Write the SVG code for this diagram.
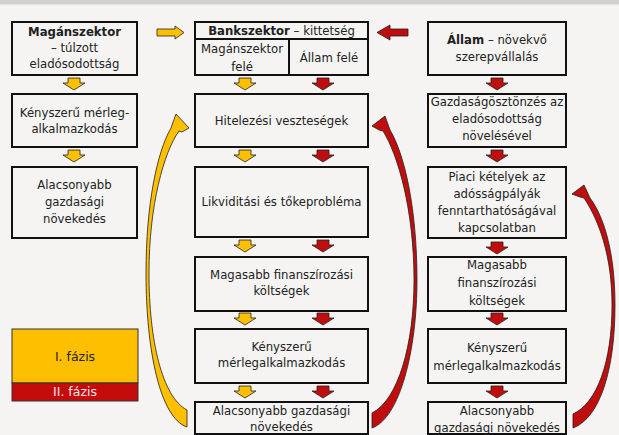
<svg xmlns="http://www.w3.org/2000/svg" xmlns:xlink="http://www.w3.org/1999/xlink" width="619" height="435" viewBox="0 0 619 435">
<style>
.bx{fill:#f5f4f2;stroke:#111;stroke-width:2}
.t{font-family:"DejaVu Sans",sans-serif;font-size:11.7px;fill:#222;text-anchor:middle}
.b{font-weight:bold}
.y{fill:#fdbf00;stroke:#222;stroke-width:0.8}
.r{fill:#c00d0d;stroke:#222;stroke-width:0.8}
</style>
<defs>
<path id="da" d="M-6,0 H6 V5 H11 L0,12 L-11,5 H-6 Z"/>
</defs>
<rect x="0" y="0" width="619" height="435" fill="#f5f4f2"/>
<rect x="0" y="0" width="619" height="4.5" fill="#d5cfcb"/>

<g id="n-magan">
<rect class="bx" x="12" y="22" width="125" height="53"/>
<text class="t" x="74.5" y="36"><tspan class="b">Magánszektor</tspan></text>
<text class="t" x="74.5" y="52">– túlzott</text>
<text class="t" x="74.5" y="68">eladósodottság</text>
</g>
<g id="n-kenysz1">
<rect class="bx" x="12" y="94" width="125" height="53"/>
<text class="t" x="74.5" y="117">Kényszerű mérleg-</text>
<text class="t" x="74.5" y="133">alkalmazkodás</text>
</g>
<g id="n-alacs1">
<rect class="bx" x="12" y="167" width="125" height="71"/>
<text class="t" x="74.5" y="189">Alacsonyabb</text>
<text class="t" x="74.5" y="206">gazdasági</text>
<text class="t" x="74.5" y="223">növekedés</text>
</g>

<g id="n-bank">
<rect class="bx" x="195" y="22" width="173" height="53"/>
<line x1="195" y1="39" x2="368" y2="39" stroke="#111" stroke-width="2"/>
<line x1="289" y1="39" x2="289" y2="75" stroke="#111" stroke-width="2"/>
<text class="t" x="281.5" y="35"><tspan class="b">Bankszektor</tspan> – kittetség</text>
<text class="t" x="242" y="53">Magánszektor</text>
<text class="t" x="242" y="71">felé</text>
<text class="t" x="329" y="62">Állam felé</text>
</g>
<g id="n-hitel">
<rect class="bx" x="195" y="94" width="173" height="53"/>
<text class="t" x="281.5" y="125">Hitelezési veszteségek</text>
</g>
<g id="n-likv">
<rect class="bx" x="195" y="167" width="173" height="70"/>
<text class="t" x="281.5" y="206">Likviditási és tőkeprobléma</text>
</g>
<g id="n-mag2">
<rect class="bx" x="195" y="257" width="173" height="54"/>
<text class="t" x="281.5" y="279">Magasabb finanszírozási</text>
<text class="t" x="281.5" y="295">költségek</text>
</g>
<g id="n-keny2">
<rect class="bx" x="195" y="329" width="173" height="54"/>
<text class="t" x="281.5" y="351">Kényszerű</text>
<text class="t" x="281.5" y="367">mérlegalkalmazkodás</text>
</g>
<g id="n-alacs2">
<rect class="bx" x="195" y="402" width="173" height="32"/>
<text class="t" x="281.5" y="415">Alacsonyabb gazdasági</text>
<text class="t" x="281.5" y="431">növekedés</text>
</g>

<g id="n-allam">
<rect class="bx" x="428" y="22" width="138" height="53"/>
<text class="t" x="497" y="44"><tspan class="b">Állam</tspan> – növekvő</text>
<text class="t" x="497" y="61">szerepvállalás</text>
</g>
<g id="n-gazd">
<rect class="bx" x="428" y="94" width="138" height="53"/>
<text class="t" x="497" y="106">Gazdaságösztönzés az</text>
<text class="t" x="497" y="123">eladósodottság</text>
<text class="t" x="497" y="140">növelésével</text>
</g>
<g id="n-piaci">
<rect class="bx" x="428" y="167" width="138" height="71"/>
<text class="t" x="497" y="181">Piaci kételyek az</text>
<text class="t" x="497" y="198">adósságpályák</text>
<text class="t" x="497" y="215">fenntarthatóságával</text>
<text class="t" x="497" y="232">kapcsolatban</text>
</g>
<g id="n-mag3">
<rect class="bx" x="428" y="257" width="138" height="54"/>
<text class="t" x="497" y="269">Magasabb</text>
<text class="t" x="497" y="287">finanszírozási</text>
<text class="t" x="497" y="305">költségek</text>
</g>
<g id="n-keny3">
<rect class="bx" x="428" y="329" width="138" height="54"/>
<text class="t" x="497" y="352">Kényszerű</text>
<text class="t" x="497" y="370">mérlegalkalmazkodás</text>
</g>
<g id="n-alacs3">
<rect class="bx" x="428" y="402" width="138" height="32"/>
<text class="t" x="497" y="415">Alacsonyabb</text>
<text class="t" x="497" y="432">gazdasági növekedés</text>
</g>

<g id="legend">
<rect x="12" y="329" width="126" height="54" fill="#fdbf00" stroke="#333" stroke-width="1"/>
<rect x="12" y="383" width="126" height="18" fill="#c40c0c" stroke="#333" stroke-width="1"/>
<text class="t" x="75" y="361" style="font-size:12.5px">I. fázis</text>
<text class="t" x="75" y="396" style="font-size:12.5px;fill:#f6e8e8">II. fázis</text>
</g>

<g id="connectors">
<use xlink:href="#da" class="y" x="74" y="78"/>
<use xlink:href="#da" class="y" x="74" y="150"/>

<use xlink:href="#da" class="y" x="245" y="78"/>
<use xlink:href="#da" class="r" x="323" y="78"/>
<use xlink:href="#da" class="y" x="245" y="150"/>
<use xlink:href="#da" class="r" x="323" y="150"/>
<use xlink:href="#da" class="y" x="245" y="240"/>
<use xlink:href="#da" class="r" x="323" y="240"/>
<use xlink:href="#da" class="y" x="245" y="313"/>
<use xlink:href="#da" class="r" x="323" y="313"/>
<use xlink:href="#da" class="y" x="245" y="386"/>
<use xlink:href="#da" class="r" x="323" y="386"/>

<use xlink:href="#da" class="r" x="497" y="78"/>
<use xlink:href="#da" class="r" x="497" y="150"/>
<use xlink:href="#da" class="r" x="497" y="242"/>
<use xlink:href="#da" class="r" x="497" y="313"/>
<use xlink:href="#da" class="r" x="497" y="386"/>

<path class="y" d="M157,29 H175 V26 L184,32.5 L175,39 V36 H157 Z"/>
<path class="r" d="M408,29 H390 V25 L377,32.5 L390,40 V36 H408 Z"/>

<path class="y" d="M187,427 C160,418 146,350 146,273 C146,205 157,152 171,128 L176,114 L189,128 L182,132 L179,131 C164,152 149,205 149,273 C149,340 162,397 187,410 Z"/>
<path class="r" d="M372,428 C400,418 417,350 417,280 C417,210 405,155 390,130 L385,116 L372,126 L379,130 L383,131 C398,155 414,210 414,280 C414,345 398,400 372,413 Z"/>
<path class="r" d="M573,428 C600,418 615,370 615,305 C615,255 605,218 590,198 L584,185 L572,194 L580,197 L584,198 C600,222 612,258 612,305 C612,362 597,403 573,414 Z"/>
</g>
</svg>
